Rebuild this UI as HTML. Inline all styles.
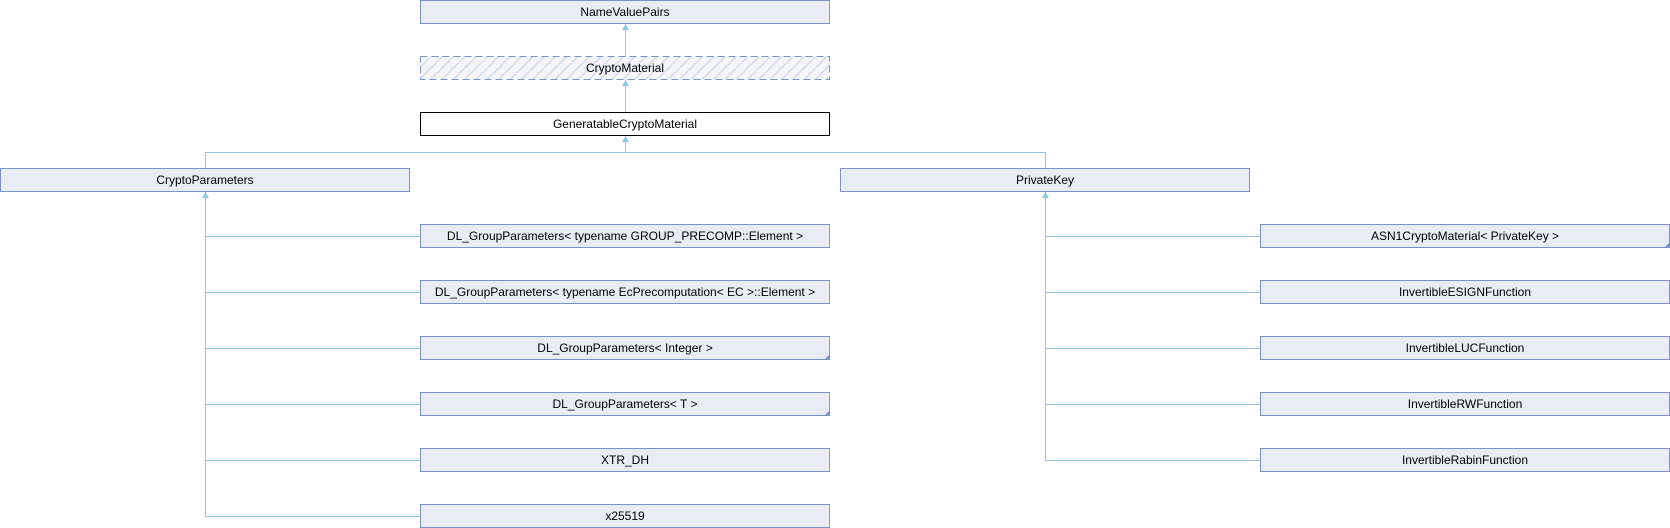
<!DOCTYPE html>
<html><head><meta charset="utf-8"><style>
html,body{margin:0;padding:0;background:#fff;}
svg{display:block;}
text{font-family:"Liberation Sans",sans-serif;font-size:12px;fill:#000;text-anchor:middle;}
.b{fill:#e8ecf5;stroke:#7b93c8;stroke-width:1;}
.l{stroke:#8fc7e6;stroke-width:1;fill:none;}
.a{fill:#8fc7e6;}
.t{fill:#7b93c8;}
</style></head><body>
<svg width="1670" height="528" viewBox="0 0 1670 528" xmlns="http://www.w3.org/2000/svg">
<defs>
<pattern id="h" width="8" height="8" patternUnits="userSpaceOnUse" patternTransform="rotate(45)">
<rect width="8" height="8" fill="#f4f6fa"/><line x1="0" y1="0" x2="0" y2="8" stroke="#d4dbe8" stroke-width="3"/>
</pattern>
</defs>
<path class="l" d="M625.5 79V23 M625.5 112V79 M625.5 152V135 M205.5 168V152.5H1045.5V168"/>
<path class="l" d="M205.5 191V516.5H420 M205.5 236.5H420 M205.5 292.5H420 M205.5 348.5H420 M205.5 404.5H420 M205.5 460.5H420"/>
<path class="l" d="M1045.5 191V460.5H1260 M1045.5 236.5H1260 M1045.5 292.5H1260 M1045.5 348.5H1260 M1045.5 404.5H1260"/>
<path class="a" d="M625.5 24l-3.5 6h7z M625.5 80l-3.5 6h7z M625.5 136l-3.5 6h7z M205.5 192l-3.5 6h7z M1045.5 192l-3.5 6h7z"/>
<rect class="b" x="420.5" y="0.5" width="409" height="23"/><text x="625" y="16">NameValuePairs</text>
<rect x="420.5" y="56.5" width="409" height="23" fill="url(#h)" stroke="#7b93c8" stroke-dasharray="7,4"/><text x="625" y="72">CryptoMaterial</text>
<rect x="420.5" y="112.5" width="409" height="23" fill="#fff" stroke="#000"/><text x="625" y="128">GeneratableCryptoMaterial</text>
<rect class="b" x="0.5" y="168.5" width="409" height="23"/><text x="205" y="184">CryptoParameters</text>
<rect class="b" x="840.5" y="168.5" width="409" height="23"/><text x="1045" y="184">PrivateKey</text>
<rect class="b" x="420.5" y="224.5" width="409" height="23"/><text x="625" y="240">DL_GroupParameters&lt; typename GROUP_PRECOMP::Element &gt;</text>
<rect class="b" x="420.5" y="280.5" width="409" height="23"/><text x="625" y="296">DL_GroupParameters&lt; typename EcPrecomputation&lt; EC &gt;::Element &gt;</text>
<rect class="b" x="420.5" y="336.5" width="409" height="23"/><text x="625" y="352">DL_GroupParameters&lt; Integer &gt;</text>
<path class="t" d="M830 354v6h-6z"/>
<rect class="b" x="420.5" y="392.5" width="409" height="23"/><text x="625" y="408">DL_GroupParameters&lt; T &gt;</text>
<path class="t" d="M830 410v6h-6z"/>
<rect class="b" x="420.5" y="448.5" width="409" height="23"/><text x="625" y="464">XTR_DH</text>
<rect class="b" x="420.5" y="504.5" width="409" height="23"/><text x="625" y="520">x25519</text>
<rect class="b" x="1260.5" y="224.5" width="409" height="23"/><text x="1465" y="240">ASN1CryptoMaterial&lt; PrivateKey &gt;</text>
<path class="t" d="M1670 242v6h-6z"/>
<rect class="b" x="1260.5" y="280.5" width="409" height="23"/><text x="1465" y="296">InvertibleESIGNFunction</text>
<rect class="b" x="1260.5" y="336.5" width="409" height="23"/><text x="1465" y="352">InvertibleLUCFunction</text>
<rect class="b" x="1260.5" y="392.5" width="409" height="23"/><text x="1465" y="408">InvertibleRWFunction</text>
<rect class="b" x="1260.5" y="448.5" width="409" height="23"/><text x="1465" y="464">InvertibleRabinFunction</text>
</svg>
</body></html>
